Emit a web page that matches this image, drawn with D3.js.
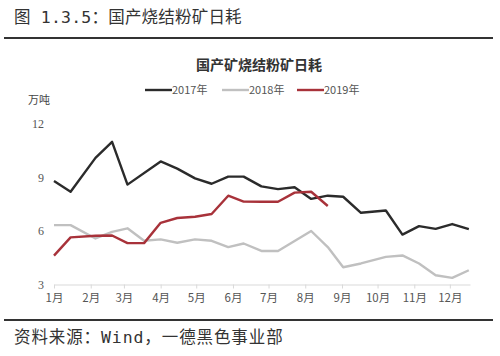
<!DOCTYPE html>
<html><head><meta charset="utf-8">
<script src="https://cdn.jsdelivr.net/npm/d3@7/dist/d3.min.js"></script>
<style>body{margin:0;background:#fff}svg{display:block}</style>
</head><body>
<svg id="c" width="500" height="356"></svg>
<script>
const monthLabels = ["1月","2月","3月","4月","5月","6月","7月","8月","9月","10月","11月","12月"];
const yTicks = [3,6,9,12];
const seriesNames = ["2017年","2018年","2019年"];
const dates2017 = ["01-01","01-15","02-05","02-19","03-04","04-01","04-15","04-30","05-14","05-28","06-10","06-25","07-09","07-23","08-06","08-20","09-02","09-17","10-08","10-22","11-05","11-19","12-03","12-17"];
const values2017 = [8.8,8.2,10.1,11.0,8.6,9.9,9.5,8.95,8.65,9.05,9.05,8.5,8.35,8.45,7.8,7.98,7.92,7.02,7.15,5.8,6.27,6.12,6.39,6.1];
const dates2018 = ["01-01","01-15","02-05","02-19","03-04","03-18","04-01","04-15","04-30","05-14","05-28","06-10","06-25","07-09","08-06","08-20","09-02","09-17","10-08","10-22","11-05","11-19","12-03","12-17"];
const values2018 = [6.33,6.33,5.58,5.95,6.15,5.45,5.53,5.34,5.53,5.45,5.1,5.3,4.88,4.88,6.0,5.1,3.97,4.18,4.55,4.63,4.18,3.52,3.37,3.8];
const dates2019 = ["01-01","01-15","02-05","02-19","03-04","03-18","04-01","04-15","04-30","05-14","05-28","06-10","06-25","07-09","07-23","08-06","08-20"];
const values2019 = [4.62,5.64,5.73,5.75,5.32,5.32,6.46,6.73,6.8,6.95,7.98,7.65,7.64,7.64,8.15,8.2,7.4];
const colors = ["#2b2b2b","#c0c0c0","#a8323a"];

const parse = d3.timeParse("%Y-%m-%d");
const toDate = s => parse("2001-" + s);
const svg = d3.select("#c");
const cjk = "'Noto Sans CJK SC','Noto Sans',sans-serif";
const monoCjk = "'DejaVu Sans Mono','Noto Sans CJK SC',monospace";

// header
svg.append("text").attr("x",14).attr("y",23).attr("font-family",monoCjk).attr("font-size",16.5)
  .attr("letter-spacing",0.2).attr("fill","#333").text("图 1.3.5：国产烧结粉矿日耗");
svg.append("line").attr("x1",4).attr("x2",493).attr("y1",38).attr("y2",38).attr("stroke","#333").attr("stroke-width",2);
svg.append("line").attr("x1",4).attr("x2",493).attr("y1",320).attr("y2",320).attr("stroke","#333").attr("stroke-width",2);
svg.append("text").attr("x",14).attr("y",343).attr("font-family",monoCjk).attr("font-size",16.5)
  .attr("letter-spacing",0.9).attr("fill","#333").text("资料来源：Wind，一德黑色事业部");

// chart title
svg.append("text").attr("x",259).attr("y",70).attr("text-anchor","middle").attr("font-family",cjk)
  .attr("font-size",14).attr("font-weight","bold").attr("fill","#333").text("国产矿烧结粉矿日耗");

const x = d3.scaleTime().domain([toDate("01-01"), toDate("12-18")]).range([54,470]);
const y = d3.scaleLinear().domain([3,12]).range([284.5,124]);

// x axis
const xAxis = d3.axisBottom(x)
  .tickValues(monthLabels.map((m,i)=>new Date(2001,i,1)))
  .tickFormat((d,i)=>monthLabels[i]).tickSize(4).tickSizeOuter(0);
const gx = svg.append("g").attr("transform","translate(0,284.5)").call(xAxis);
gx.select(".domain").attr("stroke","#d9d9d9");
gx.selectAll(".tick line").attr("stroke","#d9d9d9");
gx.selectAll("text").attr("font-family",cjk).attr("font-size",11.5).attr("fill","#555").attr("dy","0.9em");

// y axis labels
const yAxis = d3.axisLeft(y).tickValues(yTicks).tickSize(0).tickPadding(10);
const gy = svg.append("g").attr("transform","translate(54,0)").call(yAxis);
gy.select(".domain").remove();
gy.selectAll("text").attr("font-family","'Liberation Serif',serif").attr("font-size",12).attr("fill","#555");
svg.append("text").attr("x",28).attr("y",104).attr("font-family",cjk).attr("font-size",11).attr("fill","#444").text("万吨");

// lines
const line = d3.line().x(d=>x(d.date)).y(d=>y(d.v));
const series = [
  dates2017.map((d,i)=>({date:toDate(d),v:values2017[i]})),
  dates2018.map((d,i)=>({date:toDate(d),v:values2018[i]})),
  dates2019.map((d,i)=>({date:toDate(d),v:values2019[i]}))
];
[1,0,2].forEach(k=>{
  svg.append("path").datum(series[k]).attr("d",line).attr("fill","none")
    .attr("stroke",colors[k]).attr("stroke-width",2.4).attr("stroke-linejoin","round");
});

// legend
const legX = [145,222,297];
seriesNames.forEach((n,i)=>{
  svg.append("line").attr("x1",legX[i]).attr("x2",legX[i]+27).attr("y1",90).attr("y2",90)
    .attr("stroke",colors[i]).attr("stroke-width",2.4);
  svg.append("text").attr("x",legX[i]+27).attr("y",94).attr("font-family",cjk).attr("font-size",11)
    .attr("fill","#555").text(n);
});
</script>
</body></html>
